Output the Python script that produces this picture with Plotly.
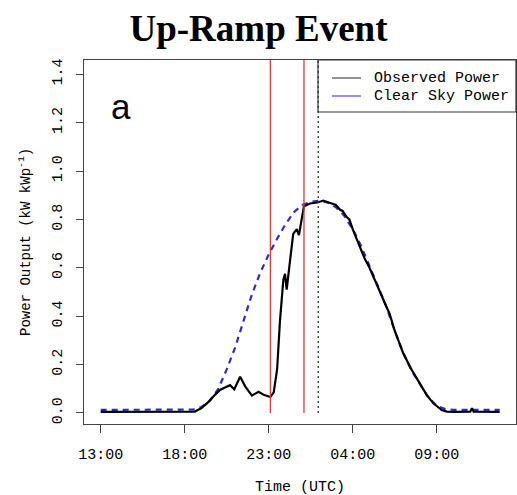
import plotly.graph_objects as go

# hours since 13:00 UTC
tick_vals = [0, 5, 10, 15, 20]
tick_text = ["13:00", "18:00", "23:00", "04:00", "09:00"]
y_ticks = [0.0, 0.2, 0.4, 0.6, 0.8, 1.0, 1.2, 1.4]

clear_t = [0, 1, 2, 3, 4, 5, 5.5, 6.0, 6.5, 7.0, 7.5, 8.0, 8.5, 9.0, 9.5, 10.0, 10.5,
           11.0, 11.5, 12.0, 12.5, 13.0, 13.5, 14.0, 14.5, 15.0, 15.5, 16.0, 16.5,
           17.0, 17.5, 18.0, 18.5, 19.0, 19.5, 20.0, 20.5, 21, 22, 23, 23.75]
clear_v = [0.013, 0.013, 0.013, 0.013, 0.013, 0.013, 0.014, 0.025, 0.05, 0.10, 0.18, 0.27,
           0.38, 0.49, 0.58, 0.655, 0.72, 0.78, 0.83, 0.86, 0.873, 0.877, 0.87, 0.85,
           0.815, 0.76, 0.69, 0.61, 0.525, 0.44, 0.34, 0.25, 0.175, 0.12, 0.065, 0.03,
           0.016, 0.013, 0.013, 0.013, 0.013]

obs_t = [0, 1, 2, 3, 4, 5, 5.6, 6.0, 6.4, 6.8, 7.1, 7.4, 7.7, 7.95, 8.3, 8.6, 9.0, 9.2,
         9.4, 9.7, 10.1, 10.3, 10.5, 10.67, 10.87, 10.97, 11.07, 11.27, 11.46, 11.67,
         11.8, 11.96, 12.1, 12.46, 12.9, 13.25, 13.5, 13.75, 14.0, 14.25, 14.4, 14.64,
         14.8, 15.0, 15.4, 15.7, 16.0, 16.3, 16.6, 17.0, 17.2, 17.5, 17.8, 18.0, 18.5,
         19.0, 19.4, 19.8, 20.3, 20.6, 21, 22.0, 22.1, 22.2, 23, 23.75]
obs_v = [0.005, 0.005, 0.005, 0.004, 0.005, 0.005, 0.006, 0.02, 0.045, 0.075, 0.095,
         0.105, 0.115, 0.098, 0.15, 0.11, 0.072, 0.08, 0.088, 0.075, 0.066, 0.085, 0.18,
         0.38, 0.55, 0.575, 0.51, 0.63, 0.74, 0.76, 0.735, 0.80, 0.855, 0.866, 0.87,
         0.878, 0.872, 0.866, 0.86, 0.84, 0.835, 0.81, 0.80, 0.76, 0.69, 0.64, 0.60,
         0.55, 0.50, 0.44, 0.41, 0.34, 0.285, 0.248, 0.18, 0.124, 0.075, 0.04, 0.012,
         0.006, 0.005, 0.006, 0.02, 0.006, 0.005, 0.005]

red_lines = [10.1, 12.1]
dotted_line = 12.95

legend_names = ["Observed Power", "Clear Sky Power"]
legend_colors = ["#555555", "#5555ee"]

mono = "Liberation Mono"
PW, PH, ML, MT = 432, 364, 84, 60  # plot area geometry in px


def px(x):
    return (x - ML) / PW


def py(y):
    return (MT + PH - y) / PH


fig = go.Figure()
fig.add_trace(go.Scatter(x=clear_t, y=clear_v, mode="lines", name="Clear Sky Power",
                         showlegend=False,
                         line=dict(color="#2b2bd9", width=2.2, dash="6px,5px")))
fig.add_trace(go.Scatter(x=obs_t, y=obs_v, mode="lines", name="Observed Power",
                         showlegend=False, line=dict(color="black", width=2.2)))

for xv in red_lines:
    fig.add_shape(type="line", x0=xv, x1=xv, y0=0, y1=1.46, xref="x", yref="y",
                  line=dict(color="#ee3333", width=1.3))

# legend box (drawn manually to match R's legend)
fig.add_shape(type="rect", x0=px(318), x1=1, y0=py(112), y1=1, xref="paper", yref="paper",
              fillcolor="white", line=dict(color="#333333", width=1.2), layer="above")
for i, (name, col) in enumerate(zip(legend_names, legend_colors)):
    yy = py(78 + 18 * i)
    fig.add_shape(type="line", x0=px(332), x1=px(361), y0=yy, y1=yy, xref="paper",
                  yref="paper", line=dict(color=col, width=1.3), layer="above")
    fig.add_annotation(text=name, x=px(372), y=yy, xref="paper", yref="paper",
                       xanchor="left", yanchor="middle", showarrow=False,
                       font=dict(family=mono, size=15, color="black"))

fig.add_shape(type="line", x0=dotted_line, x1=dotted_line, y0=0, y1=1.46, xref="x", yref="y",
              line=dict(color="#333333", width=1.3, dash="2px,3px"), layer="above")

fig.add_annotation(text="a", x=px(109), y=py(106), xref="paper", yref="paper",
                   xanchor="left", yanchor="middle", showarrow=False,
                   font=dict(family="Liberation Sans", size=35, color="black"))

fig.update_layout(
    width=517, height=495,
    margin=dict(l=84, r=1, t=60, b=71),
    paper_bgcolor="white", plot_bgcolor="white",
    showlegend=False,
    title=dict(text="<b>Up-Ramp Event</b>", x=0.5, xanchor="center", y=1 - 28 / 495,
               yanchor="middle", font=dict(family="Liberation Serif", size=37, color="black")),
    xaxis=dict(range=[-0.994, 24.72], tickvals=tick_vals, ticktext=tick_text,
               showgrid=False, zeroline=False, showline=True, mirror=True,
               linecolor="#444444", linewidth=1.2, ticks="outside", ticklen=8,
               tickcolor="#444444", ticklabelstandoff=8,
               tickfont=dict(family=mono, size=15, color="black")),
    yaxis=dict(range=[-0.0455, 1.459], tickvals=y_ticks,
               ticktext=["%.1f" % v for v in y_ticks], tickangle=-90,
               showgrid=False, zeroline=False, showline=True, mirror=True,
               linecolor="#444444", linewidth=1.2, ticks="outside", ticklen=7,
               tickcolor="#444444", ticklabelstandoff=8,
               tickfont=dict(family=mono, size=15, color="black")),
)

# axis titles
fig.add_annotation(text="Time (UTC)", x=0.5, xref="paper", y=py(487), yref="paper",
                   yanchor="middle", showarrow=False,
                   font=dict(family=mono, size=15, color="black"))
fig.add_annotation(text="Power Output (kW kWp<sup>-1</sup>)", x=px(25), xref="paper",
                   y=py(242), yref="paper", xanchor="center", yanchor="middle",
                   textangle=-90, showarrow=False,
                   font=dict(family=mono, size=14, color="black"))

fig.write_html("out.html")
